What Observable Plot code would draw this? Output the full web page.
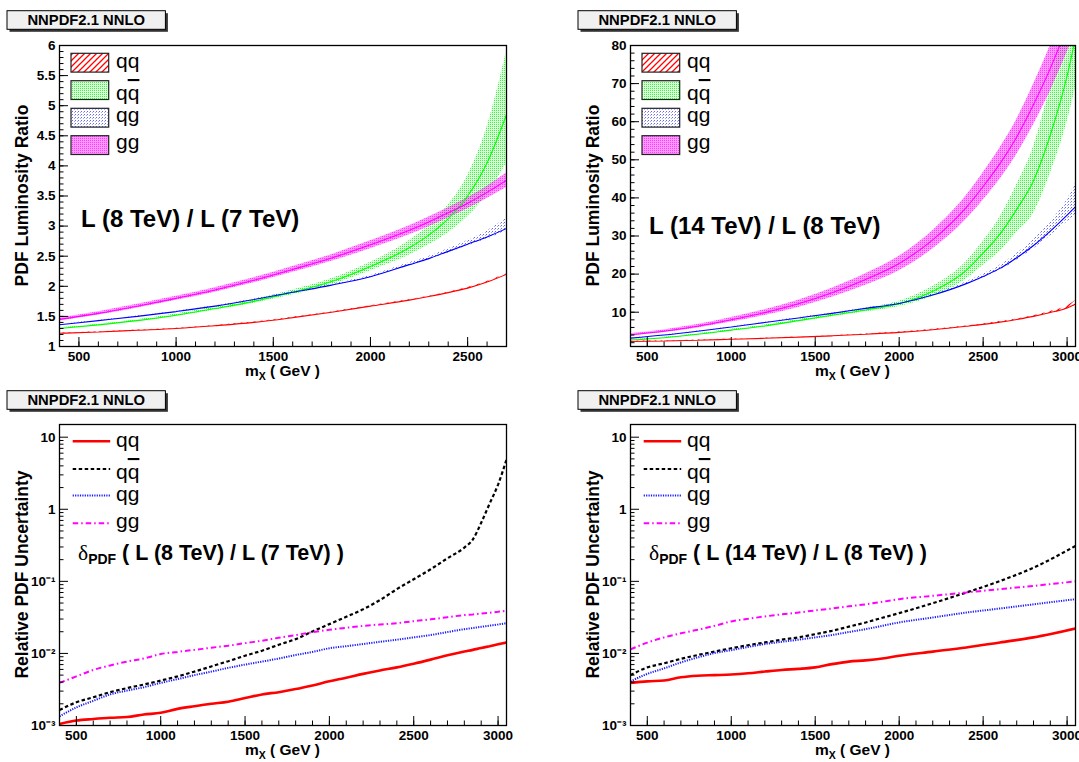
<!DOCTYPE html>
<html><head><meta charset="utf-8">
<script src="https://cdn.jsdelivr.net/npm/d3@7"></script>
<script src="https://cdn.jsdelivr.net/npm/@observablehq/plot@0.6"></script>
<style>
body{margin:0;background:#fff;width:1079px;height:762px;overflow:hidden;position:relative;}
.panel{position:absolute;}
.panel svg{max-width:none !important;}
</style></head><body>
<div id="p1" class="panel" style="left:0;top:0;width:540px;height:380px"></div>
<div id="p2" class="panel" style="left:540px;top:0;width:539px;height:380px"></div>
<div id="p3" class="panel" style="left:0;top:380px;width:540px;height:382px"></div>
<div id="p4" class="panel" style="left:540px;top:380px;width:539px;height:382px"></div>
<script>
// ---------- data: L(8 TeV)/L(7 TeV) luminosity ratio ----------
const x1 = [400,600,800,1000,1200,1400,1600,1800,2000,2200,2300,2400,2500,2600,2700];
const qq1   = [1.22,1.24,1.27,1.30,1.345,1.40,1.48,1.57,1.67,1.77,1.83,1.895,1.97,2.07,2.20];
const qq1Lo = [1.215,1.235,1.265,1.295,1.34,1.395,1.475,1.565,1.665,1.765,1.825,1.89,1.96,2.06,2.19];
const qq1Hi = [1.225,1.245,1.275,1.305,1.35,1.405,1.485,1.575,1.675,1.775,1.835,1.90,1.98,2.08,2.21];
const qqb1   = [1.30,1.36,1.43,1.52,1.63,1.75,1.90,2.08,2.33,2.64,2.85,3.12,3.50,4.05,4.85];
const qqb1Lo = [1.29,1.35,1.415,1.50,1.605,1.72,1.86,2.03,2.26,2.52,2.69,2.89,3.16,3.52,4.05];
const qqb1Hi = [1.31,1.37,1.445,1.54,1.655,1.78,1.94,2.13,2.40,2.76,3.01,3.35,3.84,4.65,5.90];
const qg1   = [1.36,1.43,1.50,1.58,1.67,1.78,1.90,2.02,2.16,2.36,2.46,2.58,2.70,2.82,2.96];
const qg1Lo = [1.355,1.425,1.494,1.573,1.662,1.771,1.89,2.008,2.145,2.34,2.438,2.555,2.67,2.785,2.92];
const qg1Hi = [1.365,1.435,1.506,1.587,1.678,1.79,1.912,2.035,2.18,2.39,2.495,2.625,2.76,2.92,3.13];
const gg1   = [1.45,1.55,1.67,1.80,1.94,2.10,2.28,2.47,2.69,2.93,3.07,3.22,3.38,3.56,3.76];
const gg1Lo = [1.425,1.522,1.64,1.767,1.903,2.058,2.232,2.415,2.625,2.855,2.99,3.135,3.29,3.46,3.64];
const gg1Hi = [1.475,1.578,1.70,1.833,1.977,2.142,2.328,2.525,2.755,3.005,3.15,3.305,3.47,3.66,3.88];

// ---------- data: L(14 TeV)/L(8 TeV) luminosity ratio ----------
const x2 = [400,600,800,1000,1200,1400,1600,1800,2000,2200,2400,2500,2600,2700,2800,2900,3000,3050];
const qq2   = [2.3,2.45,2.65,2.9,3.15,3.45,3.8,4.2,4.7,5.4,6.3,6.8,7.4,8.1,8.9,9.9,11.1,12.1];
const qq2Lo = [2.25,2.4,2.6,2.85,3.1,3.4,3.75,4.15,4.62,5.3,6.2,6.7,7.3,7.95,8.75,9.7,10.85,11.8];
const qq2Hi = [2.35,2.5,2.7,2.95,3.2,3.5,3.85,4.25,4.78,5.5,6.4,6.9,7.55,8.25,9.1,10.2,11.6,13.1];
const qqb2   = [2.7,3.3,4.2,5.3,6.4,7.8,9.2,10.6,12.2,15.5,21.0,25.5,30.5,37.0,44.5,56.5,72.0,82.0];
const qqb2Lo = [2.6,3.18,4.05,5.1,6.15,7.5,8.8,10.1,11.5,14.2,18.7,22.3,26.0,31.0,36.0,46.5,60.0,69.0];
const qqb2Hi = [2.8,3.42,4.35,5.5,6.65,8.1,9.6,11.1,12.9,16.8,23.3,28.7,35.0,43.5,53.5,69.5,88.0,100.0];
const qg2   = [3.2,4.0,5.0,6.1,7.3,8.5,9.7,11.0,12.3,14.5,17.5,19.4,21.5,24.3,27.5,31.3,35.5,37.7];
const qg2Lo = [3.17,3.96,4.95,6.04,7.23,8.42,9.6,10.88,12.15,14.3,17.2,19.0,21.0,23.6,26.6,30.0,33.7,35.5];
const qg2Hi = [3.23,4.04,5.05,6.16,7.37,8.58,9.8,11.12,12.45,14.75,17.95,20.0,22.3,25.4,29.1,33.7,39.5,43.7];
const gg2   = [4.1,5.0,6.3,8.0,9.9,12.2,15.1,18.6,22.8,29.0,37.5,43.0,49.0,56.0,64.5,74.0,85.0,91.0];
const gg2Lo = [3.85,4.65,5.85,7.4,9.15,11.25,13.9,17.1,20.9,26.6,34.4,39.4,44.9,51.4,59.2,68.0,78.2,83.7];
const gg2Hi = [4.35,5.35,6.75,8.6,10.65,13.15,16.3,20.1,24.7,31.4,40.6,46.6,53.1,60.6,69.8,80.0,91.8,98.3];

// ---------- data: relative PDF uncertainty, 8/7 TeV ----------
const x3 = [400,500,600,700,800,900,1000,1100,1200,1300,1400,1500,1600,1700,1800,1900,2000,2100,2200,2300,2400,2500,2600,2700,2800,2850,2900,2950,3000,3050];
const qq3  = [0.00105,0.00117,0.00123,0.00128,0.00131,0.00142,0.0015,0.0017,0.00185,0.002,0.00214,0.0024,0.0027,0.0029,0.0032,0.0036,0.0041,0.0046,0.0052,0.0058,0.0064,0.0072,0.0082,0.0094,0.0106,0.0112,0.0119,0.0126,0.0134,0.0142];
const qqb3 = [0.00164,0.0021,0.00246,0.0029,0.0033,0.0037,0.0042,0.0048,0.0056,0.0066,0.0078,0.0093,0.0109,0.0132,0.0158,0.0202,0.0255,0.0322,0.041,0.055,0.078,0.107,0.147,0.209,0.294,0.38,0.65,1.2,2.2,4.9];
const qg3  = [0.00134,0.00178,0.0022,0.0027,0.00305,0.0034,0.0039,0.0044,0.005,0.0056,0.0063,0.007,0.0077,0.0085,0.0095,0.0105,0.0118,0.0126,0.0135,0.0145,0.0155,0.0167,0.018,0.0198,0.0217,0.0225,0.0234,0.0243,0.0252,0.0263];
const gg3  = [0.0039,0.0048,0.0059,0.0068,0.0077,0.0085,0.0098,0.0105,0.0112,0.012,0.0128,0.0139,0.015,0.0165,0.018,0.0197,0.0213,0.0227,0.0241,0.0252,0.0263,0.028,0.0297,0.0318,0.034,0.0348,0.0357,0.0367,0.0378,0.0392];

// ---------- data: relative PDF uncertainty, 14/8 TeV ----------
const x4 = [400,500,600,700,800,900,1000,1100,1200,1300,1400,1500,1600,1700,1800,1900,2000,2200,2400,2600,2800,3050];
const qq4  = [0.0039,0.0041,0.0042,0.00466,0.0049,0.005,0.0051,0.0053,0.0056,0.0059,0.0061,0.0064,0.0071,0.0077,0.008,0.0085,0.0093,0.0106,0.0121,0.0142,0.0167,0.0222];
const qqb4 = [0.005,0.0064,0.0073,0.0084,0.0095,0.0106,0.0118,0.013,0.0142,0.0155,0.0167,0.0185,0.0206,0.0235,0.0269,0.0312,0.0362,0.0498,0.070,0.101,0.155,0.31];
const qg4  = [0.0041,0.0052,0.0062,0.0075,0.0088,0.0101,0.0111,0.0123,0.0135,0.0145,0.0155,0.0167,0.018,0.0198,0.0217,0.0242,0.0269,0.0315,0.0369,0.042,0.048,0.0566];
const gg4  = [0.0114,0.0141,0.0167,0.019,0.0213,0.0241,0.0278,0.0302,0.0326,0.0348,0.0369,0.0395,0.042,0.045,0.048,0.052,0.0566,0.063,0.070,0.078,0.0865,0.1];

// ---------- ticks / labels ----------
const xTicks1 = [500,1000,1500,2000,2500];
const xTicks = [500,1000,1500,2000,2500,3000];
const yTicks1 = [1,1.5,2,2.5,3,3.5,4,4.5,5,5.5,6];
const yTicks2 = [10,20,30,40,50,60,70,80];
const yTicksLog = [0.001,0.01,0.1,1,10];
const yLabelsLog = ["10\u207B\u00B3","10\u207B\u00B2","10\u207B\u00B9","1","10"];
const titleText = "NNPDF2.1 NNLO";
const keys = ["qq","qqbar","qg","gg"];
const colors = {qq:"#ff0000", qqbar:"#00ff00", qg:"#0000ff", gg:"#ff00ff"};
const unc = {qq:{color:"#ff0000",width:2.6,dash:null}, qqbar:{color:"#000000",width:2.2,dash:"3.5,2.5"},
             qg:{color:"#1a1aff",width:2,dash:"1.2,1.2"}, gg:{color:"#ff00ff",width:2,dash:"5.5,3,1.5,3"}};

const FONT = "'Liberation Sans', Arial, Helvetica, sans-serif";
const rows = (xs, ys, lo, hi) => xs.map((x, i) => ({x, y: ys[i], lo: lo ? lo[i] : null, hi: hi ? hi[i] : null}));

function addPatterns(defs, id) {
  const mk = (name, w, h) => defs.append("pattern").attr("id", `${id}-${name}`)
    .attr("patternUnits", "userSpaceOnUse").attr("width", w).attr("height", h);
  const px = (p, x, y, c, o = 1, w = 1, h = 1) => p.append("rect").attr("x", x).attr("y", y)
    .attr("width", w).attr("height", h).attr("fill", c).attr("fill-opacity", o);
  const r = mk("qq", 6, 6);
  r.append("path").attr("d", "M0,6L6,0M-1,1L1,-1M5,7L7,5").attr("stroke", "#ff0000").attr("stroke-width", 1.3).attr("fill", "none");
  const g = mk("qqbar", 2, 2);
  px(g, 0, 0, "#00ff00", 0.12, 2, 2); px(g, 0, 0, "#00ff00", 0.8);
  const b = mk("qg", 3, 3);
  px(b, 0, 0, "#0000ff", 0.6); px(b, 2, 1, "#0000ff", 0.35);
  const m = mk("gg", 2, 2);
  px(m, 0, 0, "#ff00ff", 0.4, 2, 2); px(m, 0, 0, "#ff00ff", 0.6);
}

function richText(g, x, y, segs, attrs) {
  const t = g.append("text").attr("x", x).attr("y", y).attr("text-anchor", "start");
  for (const [k, v] of Object.entries(attrs)) t.attr(k, v);
  let cur = 0;
  for (const s of segs) {
    const ts = t.append("tspan").text(s.t);
    const want = s.dy || 0;
    if (want - cur) ts.attr("dy", want - cur);
    cur = want;
    if (s.size) ts.attr("font-size", s.size);
    if (s.weight) ts.attr("font-weight", s.weight);
    if (s.family) ts.attr("font-family", s.family);
    if (s.deco) ts.attr("text-decoration", s.deco);
  }
  return t;
}

const legendLabels = {
  qq: [{t:"qq"}],
  qqbar: [{t:"q"},{t:"q", deco:"overline"}],
  qg: [{t:"qg"}],
  gg: [{t:"gg"}]
};

function decor(cfg) {
  return (index, scales, values, dims) => {
    const {width, height, marginLeft: ml, marginTop: mt, marginRight: mr, marginBottom: mb} = dims;
    const pw = width - ml - mr, ph = height - mt - mb;
    const g = d3.create("svg:g").attr("text-anchor", "start");
    addPatterns(g.append("defs"), cfg.id);
    // title box with shadow
    const bx = ml - 52, by = 10.7, bw = 158.4, bh = 18.6;
    g.append("rect").attr("x", bx + 2.5).attr("y", by + 2.5).attr("width", bw).attr("height", bh).attr("fill", "#333");
    g.append("rect").attr("x", bx).attr("y", by).attr("width", bw).attr("height", bh)
      .attr("fill", "#f0f0f0").attr("stroke", "#000").attr("stroke-width", 1);
    g.append("text").attr("x", bx + bw / 2).attr("y", by + bh / 2 + 5.2).attr("text-anchor", "middle")
      .attr("font-family", FONT).attr("font-weight", "bold").attr("font-size", 14.8).attr("fill", "#000").text(titleText);
    // axis titles
    g.append("text").attr("transform", `translate(${ml - 31.3},${mt + ph / 2}) rotate(-90)`)
      .attr("text-anchor", "middle").attr("font-family", FONT).attr("font-weight", "bold").attr("font-size", 17.5)
      .attr("fill", "#000").text(cfg.yTitle);
    richText(g, ml + pw / 2, mt + ph + 29.5, [{t:"m"},{t:"X", size:10.5, dy:4},{t:" ( GeV )"}],
      {"text-anchor":"middle","font-family":FONT,"font-weight":"bold","font-size":15.5,"fill":"#000"});
    // annotation
    richText(g, ml + cfg.ann.dx, mt + cfg.ann.dy, cfg.ann.segs,
      {"font-family":FONT,"font-weight":"bold","font-size":cfg.ann.size,"fill":"#000"});
    // legend
    const baselines = [23.3, 55, 76.7, 104.3];
    keys.forEach((k, i) => {
      if (cfg.legend === "box") {
        const tops = [8.3, 35.7, 63.3, 90.7];
        g.append("rect").attr("x", ml + 12).attr("y", mt + tops[i]).attr("width", 37.7).attr("height", 18.8)
          .attr("fill", `url(#${cfg.id}-${k})`).attr("stroke", "#222").attr("stroke-width", 1.2);
      } else {
        const ys = [17.3, 45, 71.4, 99.3];
        const s = unc[k];
        g.append("line").attr("x1", ml + 13.7).attr("x2", ml + 51.2).attr("y1", mt + ys[i]).attr("y2", mt + ys[i])
          .attr("stroke", s.color).attr("stroke-width", s.width).attr("stroke-dasharray", s.dash);
      }
      richText(g, ml + 57, mt + baselines[i], legendLabels[k],
        {"font-family":FONT,"font-size":21,"fill":"#000"});
    });
    return g.node();
  };
}

function makePanel(cfg) {
  const {width, height, m} = cfg;
  const pw = width - m.l - m.r, ph = height - m.t - m.b;
  const marks = [];
  for (const b of cfg.bands || []) {
    marks.push(Plot.areaY(b.data, {x: "x", y1: "lo", y2: "hi", fill: `url(#${cfg.id}-${b.key})`, curve: "monotone-x", clip: true}));
  }
  for (const s of cfg.lines) {
    marks.push(Plot.lineY(s.data, {x: "x", y: "y", stroke: s.color, strokeWidth: s.width,
      strokeDasharray: s.dash || undefined, strokeLinecap: "butt", strokeLinejoin: "miter",
      curve: "monotone-x", clip: true}));
  }
  marks.push(Plot.ruleX(cfg.xMinor, {insetTop: ph - 4.5, stroke: "#000", strokeWidth: 1}));
  marks.push(Plot.ruleX(cfg.xMajor, {insetTop: ph - 9, stroke: "#000", strokeWidth: 1}));
  marks.push(Plot.ruleY(cfg.yMinor, {insetRight: pw - 4.5, stroke: "#000", strokeWidth: 1}));
  marks.push(Plot.ruleY(cfg.yMajor, {insetRight: pw - 9, stroke: "#000", strokeWidth: 1}));
  marks.push(Plot.axisX(cfg.xLabels, {tickSize: 0, tickPadding: 4.5, label: null, fontSize: 13.5, fontWeight: "bold",
    fontFamily: FONT, fill: "#000", tickFormat: d => String(d)}));
  marks.push(Plot.axisY(cfg.yLabels, {tickSize: 0, tickPadding: 4, label: null, fontSize: 13.5, fontWeight: "bold",
    fontFamily: FONT, fill: "#000", tickFormat: cfg.yFormat}));
  marks.push(Plot.frame({stroke: "#000", strokeWidth: 1.3}));
  marks.push(decor(cfg));
  const svg = Plot.plot({
    width, height, marginLeft: m.l, marginRight: m.r, marginTop: m.t, marginBottom: m.b,
    x: {domain: cfg.xDomain, label: null},
    y: {type: cfg.yType, domain: cfg.yDomain, label: null},
    style: {fontFamily: FONT, background: "#fff", color: "#000", overflow: "hidden"},
    marks
  });
  document.getElementById(cfg.id).appendChild(svg);
}

const minorX = (a, b) => d3.range(a, b + 1, 100);
const logMinor = [0.001, 0.01, 0.1, 1].flatMap(d => d3.range(2, 10).map(k => d * k));
const logFmt = d => yLabelsLog[yTicksLog.findIndex(t => Math.abs(t - d) < t * 1e-6)];

function ratioPanel(id, width, m, xDomain, xs, S, yDomain, yMajor, yMinor, yLabels, ann, xMinor, xLabels) {
  makePanel({
    id, width, height: 380, m, xDomain, yType: "linear", yDomain, legend: "box",
    yTitle: "PDF Luminosity Ratio",
    bands: keys.map(k => ({key: k, data: rows(xs, S[k][0], S[k][1], S[k][2])})),
    lines: keys.map(k => ({color: colors[k], width: 1.1, data: rows(xs, S[k][0])})),
    xMajor: xLabels, xMinor, yMajor, yMinor, xLabels, yLabels, yFormat: d => String(d), ann
  });
}
function uncPanel(id, width, m, xs, S, ann) {
  makePanel({
    id, width, height: 382, m, xDomain: [400, 3050], yType: "log", yDomain: [0.001, 15], legend: "line",
    yTitle: "Relative PDF Uncertainty",
    lines: keys.map(k => ({...unc[k], data: rows(xs, S[k])})),
    xMajor: xTicks, xMinor: minorX(400, 3000), yMajor: yTicksLog, yMinor: logMinor,
    xLabels: xTicks, yLabels: yTicksLog, yFormat: logFmt, ann
  });
}

ratioPanel("p1", 540, {l:59, r:34, t:45, b:34}, [400, 2700], x1,
  {qq:[qq1,qq1Lo,qq1Hi], qqbar:[qqb1,qqb1Lo,qqb1Hi], qg:[qg1,qg1Lo,qg1Hi], gg:[gg1,gg1Lo,gg1Hi]},
  [1, 6], yTicks1, d3.range(1, 6.001, 0.1), yTicks1,
  {dx: 22, dy: 181.7, size: 24, segs: [{t:"L (8 TeV) / L (7 TeV)"}]}, minorX(400, 2700), xTicks1);

ratioPanel("p2", 539, {l:90, r:4, t:45, b:34}, [400, 3050], x2,
  {qq:[qq2,qq2Lo,qq2Hi], qqbar:[qqb2,qqb2Lo,qqb2Hi], qg:[qg2,qg2Lo,qg2Hi], gg:[gg2,gg2Lo,gg2Hi]},
  [1, 80], yTicks2, d3.range(2, 80.001, 2), yTicks2,
  {dx: 19, dy: 189, size: 24, segs: [{t:"L (14 TeV) / L (8 TeV)"}]}, minorX(400, 3000), xTicks);

uncPanel("p3", 540, {l:59, r:34, t:44, b:37}, x3, {qq:qq3, qqbar:qqb3, qg:qg3, gg:gg3},
  {dx: 19, dy: 136, size: 21.5, segs: [{t:"\u03B4", weight:"normal", family:"'Liberation Serif', serif"},
    {t:"PDF", size:14, dy:4.3}, {t:" ( L (8 TeV) / L (7 TeV) )"}]});

uncPanel("p4", 539, {l:90, r:4, t:44, b:37}, x4, {qq:qq4, qqbar:qqb4, qg:qg4, gg:gg4},
  {dx: 19, dy: 136, size: 21.5, segs: [{t:"\u03B4", weight:"normal", family:"'Liberation Serif', serif"},
    {t:"PDF", size:14, dy:4.3}, {t:" ( L (14 TeV) / L (8 TeV) )"}]});
</script></body></html>
